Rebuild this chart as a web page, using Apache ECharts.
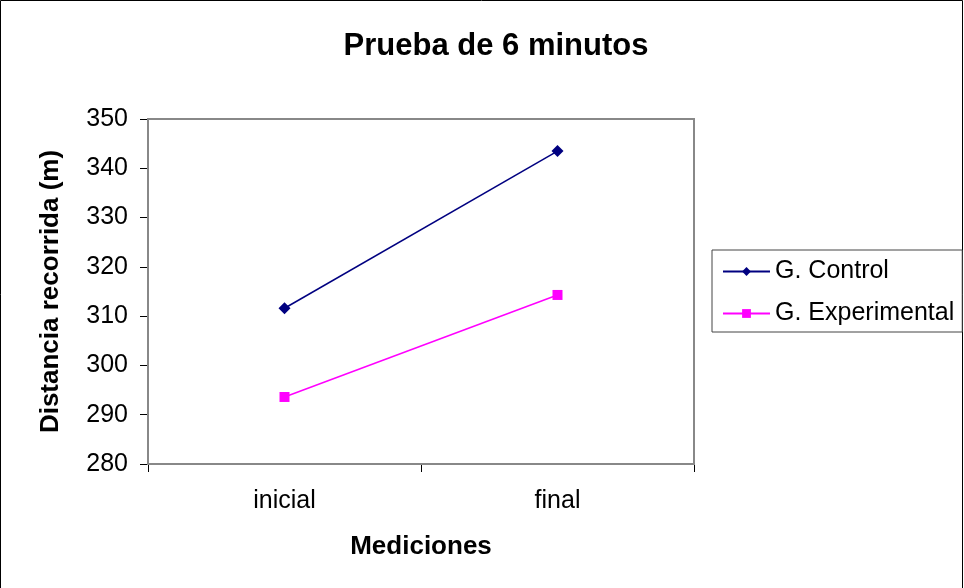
<!DOCTYPE html>
<html><head><meta charset="utf-8">
<script src="https://cdn.jsdelivr.net/npm/echarts@6/dist/echarts.min.js"></script>
<style>html,body{margin:0;padding:0;background:#fff}#c{width:964px;height:588px}</style>
</head><body><div id="c"></div>
<script>
const categories = ['inicial', 'final'];
const controlValues = [311.6, 343.5];
const experimentalValues = [293.6, 314.3];
const seriesNames = ['G. Control', 'G. Experimental'];

const chart = echarts.init(document.getElementById('c'));
const font = 'Liberation Sans, Arial, sans-serif';
chart.setOption({
  animation: false,
  backgroundColor: '#fff',
  title: {
    text: 'Prueba de 6 minutos', left: 491, top: 26, textAlign: 'center',
    textStyle: { fontFamily: font, fontSize: 31, fontWeight: 'bold', color: '#000' }
  },
  graphic: [
    { type: 'rect', shape: { x: 0.5, y: 0.5, width: 962, height: 600 }, style: { fill: 'none', stroke: '#000', lineWidth: 1 }, z: 0 },
    { type: 'rect', shape: { x: 148, y: 119, width: 546, height: 345 }, style: { fill: 'none', stroke: '#888', lineWidth: 2 }, z: 1 }
  ],
  legend: {
    orient: 'vertical', left: 712, top: 250,
    itemWidth: 47, itemHeight: 11, itemGap: 17,
    padding: [9, 8, 6, 10],
    borderColor: '#444', borderWidth: 1,
    textStyle: { fontFamily: font, fontSize: 25, color: '#000' },
    data: seriesNames
  },
  grid: { left: 148, right: 270, top: 119, bottom: 124, containLabel: false },
  xAxis: {
    type: 'category', data: categories, boundaryGap: true,
    name: 'Mediciones', nameLocation: 'middle', nameGap: 70,
    nameTextStyle: { fontFamily: font, fontSize: 26, fontWeight: 'bold', color: '#000' },
    axisLine: { lineStyle: { color: '#000', width: 1.5 } },
    axisTick: { show: true, length: 8, alignWithLabel: false, lineStyle: { color: '#000' } },
    axisLabel: { fontFamily: font, fontSize: 25, color: '#000', margin: 25 }
  },
  yAxis: {
    type: 'value', min: 280, max: 350, interval: 10,
    name: 'Distancia recorrida (m)', nameLocation: 'middle', nameGap: 84, nameRotate: 90,
    nameTextStyle: { fontFamily: font, fontSize: 26, fontWeight: 'bold', color: '#000' },
    axisLine: { show: true, lineStyle: { color: '#000', width: 2 } },
    axisTick: { show: true, length: 8, lineStyle: { color: '#000' } },
    axisLabel: { fontFamily: font, fontSize: 25, color: '#000', margin: 20 },
    splitLine: { show: false }
  },
  series: [
    {
      name: seriesNames[0], type: 'line', data: controlValues,
      symbol: 'diamond', symbolSize: 12,
      lineStyle: { color: '#000080', width: 1.5 },
      itemStyle: { color: '#000080' }
    },
    {
      name: seriesNames[1], type: 'line', data: experimentalValues,
      symbol: 'rect', symbolSize: 10,
      lineStyle: { color: '#FF00FF', width: 1.5 },
      itemStyle: { color: '#FF00FF' }
    }
  ]
});
</script></body></html>
